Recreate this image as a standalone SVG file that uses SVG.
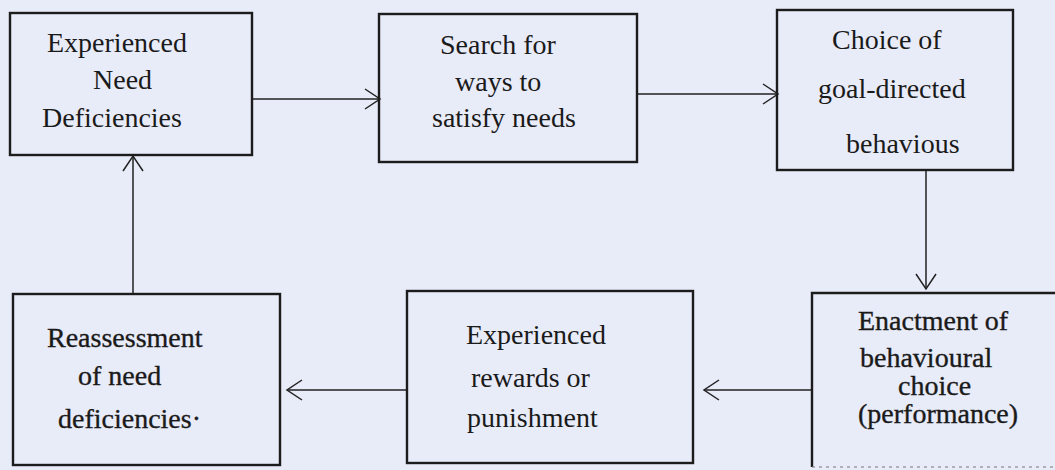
<svg xmlns="http://www.w3.org/2000/svg" width="1055" height="470" viewBox="0 0 1055 470">
  <style>
    .box { fill: none; stroke: #1c1c1c; stroke-width: 2.4; }
    .label { font-family: "Liberation Serif", "Times New Roman", serif; font-size: 28px; fill: #1a1a1a; }
    .heavy { stroke: #1a1a1a; stroke-width: 0.35; }
    .link { fill: none; stroke: #222; stroke-width: 1.5; }
  </style>
  <defs>
    <marker id="chevron" markerUnits="userSpaceOnUse" markerWidth="22" markerHeight="26" refX="17" refY="13" orient="auto">
      <polyline points="2,3 17,13 2,23" fill="none" stroke="#222" stroke-width="1.5"/>
    </marker>
  </defs>

  <rect width="1055" height="470" fill="#e8ebf8"/>

  <g id="connectors">
    <line class="link" x1="253" y1="99" x2="380" y2="99" marker-end="url(#chevron)"/>
    <line class="link" x1="637" y1="94" x2="778" y2="94" marker-end="url(#chevron)"/>
    <line class="link" x1="926" y1="170" x2="926" y2="289" marker-end="url(#chevron)"/>
    <line class="link" x1="812" y1="390" x2="704" y2="390" marker-end="url(#chevron)"/>
    <line class="link" x1="407" y1="390" x2="287" y2="390" marker-end="url(#chevron)"/>
    <line class="link" x1="133" y1="294" x2="133" y2="156" marker-end="url(#chevron)"/>
  </g>

  <g id="need-deficiencies">
    <rect class="box" x="10" y="13" width="242" height="142"/>
    <text class="label" x="47" y="52">Experienced</text>
    <text class="label" x="93" y="89">Need</text>
    <text class="label" x="42" y="127">Deficiencies</text>
  </g>

  <g id="search">
    <rect class="box" x="379" y="14" width="258" height="148"/>
    <text class="label" x="440" y="54">Search for</text>
    <text class="label" x="455" y="91">ways to</text>
    <text class="label" x="432" y="127">satisfy needs</text>
  </g>

  <g id="choice">
    <rect class="box" x="777" y="10" width="236" height="160"/>
    <text class="label" x="832" y="49">Choice of</text>
    <text class="label" x="818" y="98">goal-directed</text>
    <text class="label" x="846" y="153">behavious</text>
  </g>

  <g id="enactment">
    <path class="box" d="M1060,293 H812 V467"/>
    <line x1="812" y1="467" x2="1060" y2="467" stroke="#777" stroke-width="1" stroke-dasharray="3 4"/>
    <text class="label heavy" x="858" y="330">Enactment of</text>
    <text class="label heavy" x="860" y="367">behavioural</text>
    <text class="label heavy" x="898" y="395">choice</text>
    <text class="label heavy" x="858" y="423">(performance)</text>
  </g>

  <g id="rewards">
    <rect class="box" x="407" y="291" width="286" height="172"/>
    <text class="label" x="466" y="344">Experienced</text>
    <text class="label" x="471" y="387">rewards or</text>
    <text class="label" x="467" y="427">punishment</text>
  </g>

  <g id="reassessment">
    <rect class="box" x="13" y="294" width="267" height="171"/>
    <text class="label heavy" x="47" y="347">Reassessment</text>
    <text class="label heavy" x="78" y="385">of need</text>
    <text class="label heavy" x="58" y="428">deficiencies·</text>
  </g>
</svg>
